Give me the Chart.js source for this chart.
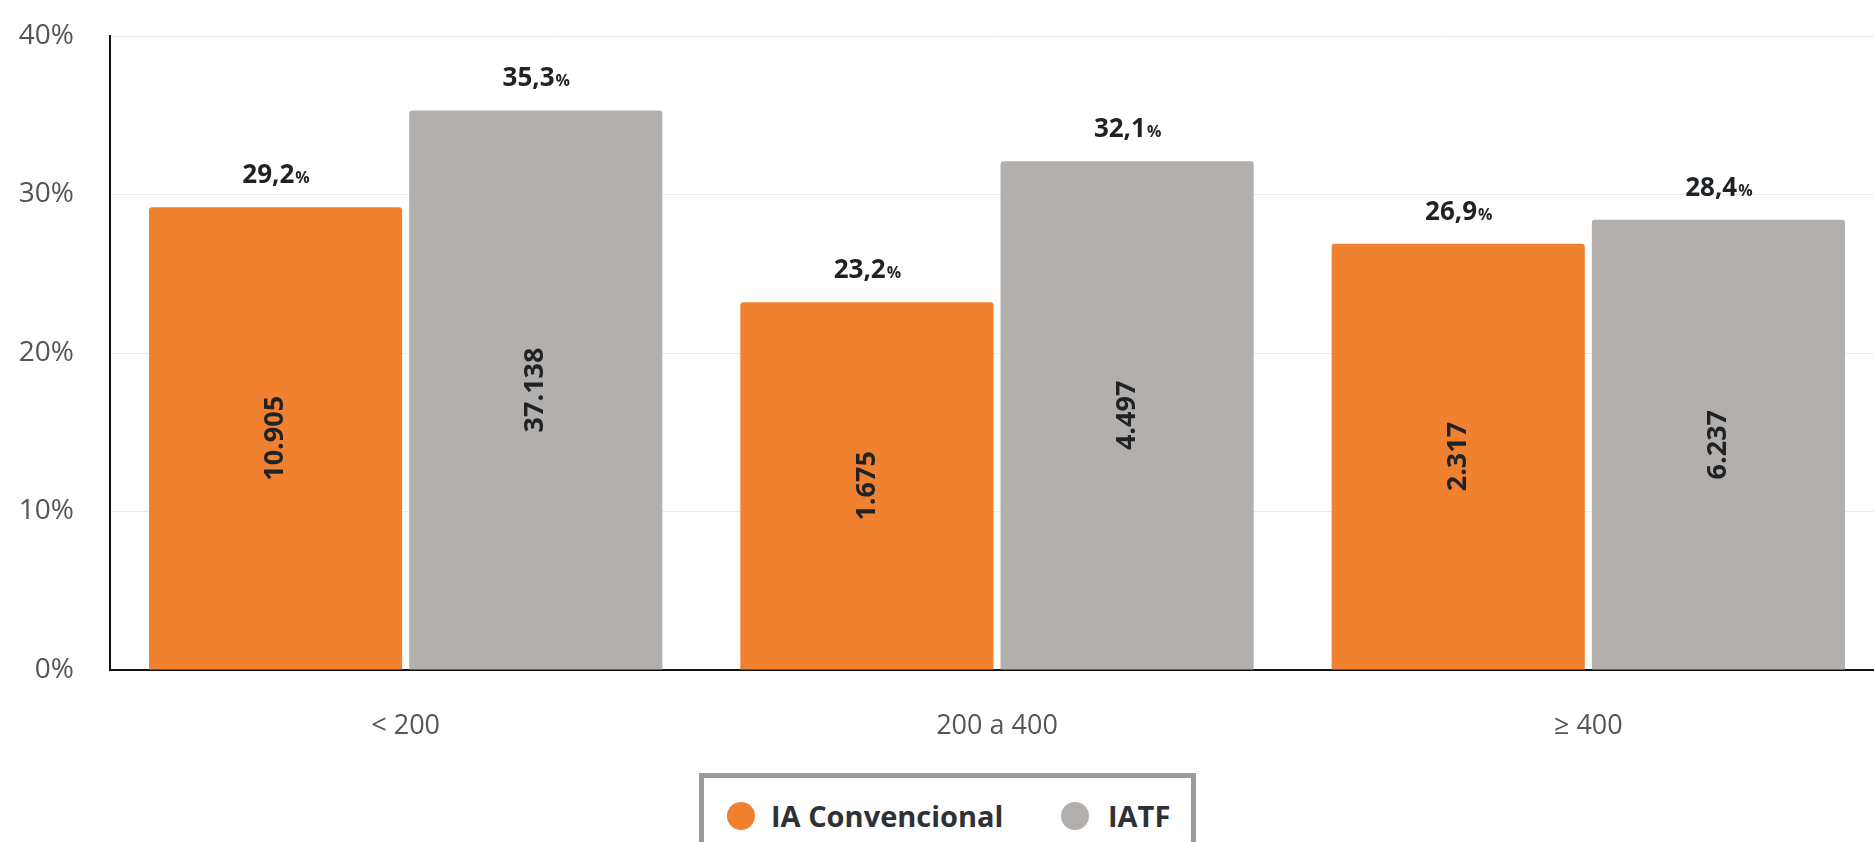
<!DOCTYPE html>
<html>
<head>
<meta charset="utf-8">
<script src="https://cdn.jsdelivr.net/npm/chart.js@4.4.1/dist/chart.umd.min.js"></script>
<style>
  html, body { margin: 0; padding: 0; background: #ffffff; overflow: hidden; width: 1874px; height: 842px; }
  #wrap { position: absolute; left: 0; top: 0; width: 1884px; height: 842px; }
  #legend { position: absolute; left: 699px; top: 773px; width: 497px; height: 100px; box-sizing: border-box;
            border: 5px solid #9b9b9b; background: #fff; font-family: "Open Sans", "Noto Sans", sans-serif; }
  .dot { position: absolute; width: 28px; height: 28px; border-radius: 50%; top: 24px; }
  .lbl { position: absolute; top: 20px; line-height: 36px; font-size: 29px; font-weight: 700; color: #2e3236; white-space: nowrap; }
</style>
</head>
<body>
<div id="wrap"><canvas id="c" width="1884" height="842"></canvas></div>
<div id="legend"></div>
<script>
// ---- data ----
const categories = ['< 200', '200 a 400', '\u2265 400'];
const seriesNames = ['IA Convencional', 'IATF'];
const seriesColors = ['#f08131', '#b3afad'];
const iaConvPct = [29.2, 23.2, 26.9];
const iatfPct = [35.3, 32.1, 28.4];
const iaConvCount = [10905, 1675, 2317];
const iatfCount = [37138, 4497, 6237];
const yTickValues = [0, 10, 20, 30, 40];

const counts = [iaConvCount, iatfCount];

function fmtPct(v) { return v.toFixed(1).replace('.', ','); }
function fmtCount(v) { return String(v).replace(/\B(?=(\d{3})+(?!\d))/g, '.'); }

const FONT = '"Open Sans", "Noto Sans", sans-serif';

const labelPlugin = {
  id: 'barLabels',
  afterDatasetsDraw(chart) {
    const ctx = chart.ctx;
    chart.data.datasets.forEach((ds, di) => {
      const meta = chart.getDatasetMeta(di);
      meta.data.forEach((bar, i) => {
        const main = fmtPct(ds.data[i]);
        ctx.save();
        ctx.fillStyle = '#1f2326';
        ctx.textBaseline = 'alphabetic';
        ctx.font = '700 26px ' + FONT;
        const w1 = ctx.measureText(main).width;
        ctx.font = '700 16px ' + FONT;
        const w2 = ctx.measureText('%').width;
        const x0 = bar.x - (w1 + w2) / 2;
        const yb = bar.y - 24;
        ctx.textAlign = 'left';
        ctx.font = '700 26px ' + FONT;
        ctx.fillText(main, x0, yb);
        ctx.font = '700 16px ' + FONT;
        ctx.fillText('%', x0 + w1 + 1, yb);
        ctx.restore();
        ctx.save();
        ctx.translate(bar.x, (bar.y + bar.base) / 2);
        ctx.rotate(-Math.PI / 2);
        ctx.fillStyle = '#1f2326';
        ctx.font = '700 27px ' + FONT;
        ctx.textAlign = 'center';
        ctx.textBaseline = 'middle';
        ctx.fillText(fmtCount(counts[di][i]), 0, 0);
        ctx.restore();
      });
    });
  }
};

const chart = new Chart(document.getElementById('c'), {
  type: 'bar',
  data: {
    labels: categories,
    datasets: [
      { label: seriesNames[0], data: iaConvPct, backgroundColor: seriesColors[0] },
      { label: seriesNames[1], data: iatfPct, backgroundColor: seriesColors[1] }
    ]
  },
  options: {
    responsive: false,
    animation: false,
    devicePixelRatio: 1,
    layout: { padding: { top: 36, left: 0, right: 0, bottom: 0 } },
    datasets: { bar: { categoryPercentage: 0.88, barPercentage: 0.973, borderRadius: 3, borderSkipped: 'start' } },
    plugins: { legend: { display: false }, tooltip: { enabled: false } },
    scales: {
      x: {
        grid: { display: false, drawTicks: false },
        border: { display: true, color: '#111111', width: 2 },
        ticks: { color: '#555555', font: { family: FONT, size: 27 }, padding: 40 },
        afterFit(s) { s.height = 172; s.paddingLeft = 0; s.paddingRight = 0; }
      },
      y: {
        min: 0, max: 40,
        afterBuildTicks(s) { s.ticks = yTickValues.map(v => ({ value: v })); },
        grid: { color: '#ebebeb', lineWidth: 1, drawTicks: false },
        border: { display: true, color: '#111111', width: 2 },
        ticks: { color: '#555555', font: { family: FONT, size: 28 }, padding: 36, callback: v => v + '%' },
        afterFit(s) { s.width = 110; s.paddingTop = 0; s.paddingBottom = 0; }
      }
    }
  },
  plugins: [labelPlugin]
});

// legend
const legend = document.getElementById('legend');
const dotLeft = [23, 357];
const textLeft = [67, 404];
seriesNames.forEach((name, i) => {
  const d = document.createElement('span');
  d.className = 'dot'; d.style.left = dotLeft[i] + 'px'; d.style.background = seriesColors[i];
  const t = document.createElement('span');
  t.className = 'lbl'; t.style.left = textLeft[i] + 'px'; t.textContent = name;
  legend.appendChild(d); legend.appendChild(t);
});
</script>
</body>
</html>
